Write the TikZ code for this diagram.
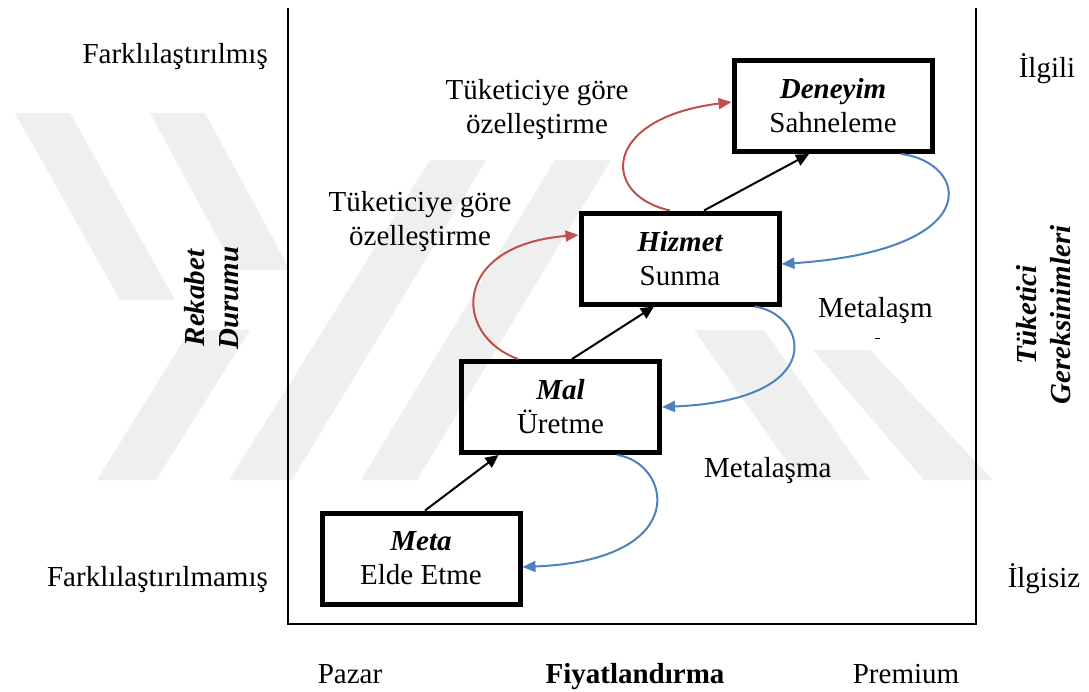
\documentclass[tikz,border=0pt]{standalone}
\usepackage{fontspec}
\setmainfont{Liberation Serif}
\usetikzlibrary{arrows.meta,calc}
\definecolor{custred}{RGB}{192,80,77}
\definecolor{commblue}{RGB}{79,129,189}
\definecolor{markgray}{RGB}{239,239,239}
\begin{document}
\begin{tikzpicture}[x=1pt,y=-1pt,
  every node/.style={font=\fontsize{29}{34}\selectfont, inner sep=0pt},
  stagebox/.style={draw, line width=5pt, minimum width=198pt, minimum height=91pt, align=center},
  sidelabel/.style={rotate=90, align=center, font=\fontsize{29}{34}\selectfont\bfseries\itshape},
  axisline/.style={line width=2pt},
  climb/.style={line width=2pt, -{Triangle[length=13pt,width=12pt]}},
  custom/.style={custred, line width=2pt, -{Triangle[length=13pt,width=11pt]}},
  commod/.style={commblue, line width=2pt, -{Triangle[length=13pt,width=11pt]}},
  band/.style={fill=markgray, draw=none},
]
\useasboundingbox (0,0) rectangle (1089,691);

% faint background emblem made of slanted bands
\fill[band] (15,113) -- (70,113) -- (175,300) -- (120,300) -- cycle;
\fill[band] (150,113) -- (205,113) -- (290,270) -- (235,270) -- cycle;
\fill[band] (97,480) -- (156,480) -- (250,330) -- (190,330) -- cycle;
\fill[band] (229,480) -- (292,480) -- (486,160) -- (430,160) -- cycle;
\fill[band] (361,480) -- (417,480) -- (611,160) -- (555,160) -- cycle;
\fill[band] (694,330) -- (764,330) -- (870,480) -- (800,480) -- cycle;
\fill[band] (813,350) -- (870,350) -- (993,480) -- (924,480) -- cycle;

% frame of the chart
\coordinate (tl) at (288,8);
\coordinate (bl) at (288,624);
\coordinate (br) at (976,624);
\coordinate (tr) at (976,8);
\draw[axisline] (tl) -- (bl) -- (br) -- (tr);

% stages of economic value
\node[stagebox] (meta) at (421,558.5) {{\bfseries\itshape Meta}\\Elde Etme};
\node[stagebox] (mal) at (560.5,407) {{\bfseries\itshape Mal}\\Üretme};
\node[stagebox] (hizmet) at (680,258.5) {{\bfseries\itshape Hizmet}\\Sunma};
\node[stagebox] (deneyim) at (833,106) {{\bfseries\itshape Deneyim}\\Sahneleme};

% progression arrows
\draw[climb] ([xshift=4pt]meta.north) -- ([xshift=-62pt]mal.south);
\draw[climb] ([xshift=11.5pt]mal.north) -- ([xshift=-26pt]hizmet.south);
\draw[climb] ([xshift=24pt]hizmet.north) -- ([xshift=-24pt]deneyim.south);

% customization loops
\draw[custom] ([xshift=-42.5pt]mal.north) .. controls (452,335) and (452,245) .. ([yshift=23.5pt]hizmet.west);
\draw[custom] ([xshift=-10pt]hizmet.north) .. controls (600,195) and (602,118) .. ([yshift=4pt]deneyim.west);

% commoditization loops
\draw[commod] ([xshift=68pt]deneyim.south) .. controls (968,162) and (990,250) .. ([yshift=-5.5pt]hizmet.east);
\draw[commod] ([xshift=75pt]hizmet.south) .. controls (808,315) and (830,400) .. (mal.east);
\draw[commod] ([xshift=56.5pt]mal.south) .. controls (670,462) and (695,560) .. ([yshift=-8.5pt]meta.east);

% labels
\node[anchor=north, align=center] (cust2) at (537,79.2) {Tüketiciye göre\\özelleştirme};
\node[anchor=north, align=center] (cust1) at (420,191.2) {Tüketiciye göre\\özelleştirme};
\node[anchor=base west] (meta2) at (818,317) {Metalaşm};
\draw[line width=1pt] (875,338) -- (880,338);
\node[anchor=base west] (meta1) at (704,477) {Metalaşma};

\node[anchor=base east] (ytop) at (268,63) {Farklılaştırılmış};
\node[anchor=base east] (ybot) at (268,586) {Farklılaştırılmamış};
\node[anchor=base] (rtop) at (1047,77) {İlgili};
\node[anchor=base] (rbot) at (1044,587) {İlgisiz};
\node[anchor=base] (xl) at (350,683) {Pazar};
\node[anchor=base, font=\fontsize{29}{34}\selectfont\bfseries] (xm) at (635,683) {Fiyatlandırma};
\node[anchor=base] (xr) at (906,683) {Premium};

\node[sidelabel] (ylab) at (211.6,298) {Rekabet\\Durumu};
\node[sidelabel] (rlab) at (1044,315) {Tüketici\\Gereksinimleri};
\end{tikzpicture}
\end{document}
